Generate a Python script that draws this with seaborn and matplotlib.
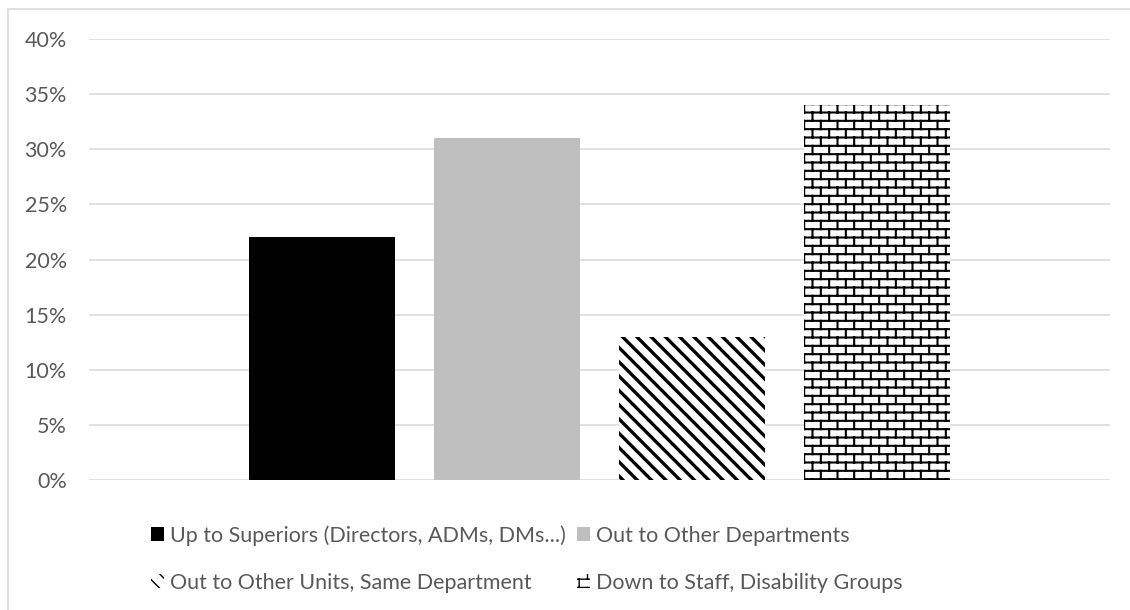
import warnings
import numpy as np
import pandas as pd
import matplotlib
matplotlib.use('Agg')
import matplotlib.pyplot as plt
import matplotlib.hatch as mhatch
from matplotlib.path import Path
from matplotlib.patches import Rectangle
from matplotlib.ticker import PercentFormatter, MultipleLocator
import seaborn as sns

warnings.filterwarnings('ignore')

# datos
categorias = ['Up to Superiors (Directors, ADMs, DMs...)',
              'Out to Other Departments',
              'Out to Other Units, Same Department',
              'Down to Staff, Disability Groups']
valores = [0.22, 0.31, 0.13, 0.34]
colores = ['#000000', '#bfbfbf', '#ffffff', '#ffffff']
tramas = ['', '', 'd', 'b']


def _segmentos(vertices, codes, segs):
    k = 0
    for a, b in segs:
        vertices[k] = a
        vertices[k + 1] = b
        codes[k] = Path.MOVETO
        codes[k + 1] = Path.LINETO
        k += 2


# trama de ladrillos (matplotlib no la trae)
class Ladrillos(mhatch.HatchPatternBase):
    def __init__(self, hatch, density):
        self.filas = 12
        self.cols = 6
        if 'b' in hatch:
            self.num_lines = self.filas + (self.filas + 1) * self.cols
        else:
            self.num_lines = 0
        self.num_vertices = self.num_lines * 2

    def set_vertices_and_codes(self, vertices, codes):
        R, C = self.filas, self.cols
        segs = []
        ys = (np.arange(R) + 0.5) / R
        for y in ys:
            segs.append(((0.0, y), (1.0, y)))
        for i in range(R):
            y0 = ys[i]
            off = 0.25 if i % 2 == 0 else 0.75
            for j in range(C):
                x = (j + off) / C
                if i < R - 1:
                    segs.append(((x, y0), (x, ys[i + 1])))
                else:
                    # la fila de arriba da la vuelta al borde del cuadro
                    segs.append(((x, y0), (x, 1.0)))
                    segs.append(((x, 0.0), (x, ys[0])))
        _segmentos(vertices, codes, segs)


# rayas diagonales, separacion parecida a la de Excel
class Diagonales(mhatch.HatchPatternBase):
    def __init__(self, hatch, density):
        self.n = 7
        self.num_lines = 2 * self.n + 1 if 'd' in hatch else 0
        self.num_vertices = self.num_lines * 2

    def set_vertices_and_codes(self, vertices, codes):
        segs = []
        for k in range(2 * self.n + 1):
            o = -1 + k / self.n
            segs.append(((o, 1.0), (o + 1.0, 0.0)))
        _segmentos(vertices, codes, segs)


mhatch._hatch_types.append(Ladrillos)
mhatch._hatch_types.append(Diagonales)

sns.set_style('white')
plt.rcParams['font.family'] = ['Lato', 'DejaVu Sans']
gris_texto = '#595959'

df = pd.DataFrame({'categoria': categorias, 'valor': valores})

fig = plt.figure(figsize=(11.3, 6.1), dpi=100)
ax = fig.add_axes([89 / 1130, 1 - 480 / 610, (1110 - 89) / 1130, (480 - 39) / 610])

sns.barplot(data=df, x='categoria', y='valor', hue='categoria',
            palette=colores, width=0.79, dodge=False, legend=False,
            edgecolor='black', linewidth=0, saturation=1, ax=ax)

for barra, trama, grosor in zip(ax.patches, tramas, [1, 1, 2.4, 1.5]):
    if trama:
        barra.set_hatch(trama)
        if hasattr(barra, 'set_hatch_linewidth'):
            barra.set_hatch_linewidth(grosor)
        else:
            plt.rcParams['hatch.linewidth'] = grosor

ax.set_xlim(-1.26, 4.26)
ax.set_ylim(0, 0.4)
ax.yaxis.set_major_locator(MultipleLocator(0.05))
ax.yaxis.set_major_formatter(PercentFormatter(1.0, decimals=0))
ax.grid(axis='y', color='#d9d9d9', linewidth=1.1)
ax.set_axisbelow(True)
for s in ax.spines.values():
    s.set_visible(False)
ax.set_xticks([])
ax.set_xlabel('')
ax.set_ylabel('')
ax.tick_params(axis='y', length=0, pad=16, labelsize=15.5, labelcolor=gris_texto)

# leyenda por filas: matplotlib llena por columnas
orden = [0, 2, 1, 3]
fig.legend(handles=[ax.patches[i] for i in orden],
           labels=[categorias[i] for i in orden], ncol=2,
           loc='center left', bbox_to_anchor=(151 / 1130, 1 - 559 / 610),
           frameon=False, fontsize=15.5, labelcolor=gris_texto,
           handlelength=0.6, handleheight=0.65, handletextpad=0.3,
           columnspacing=0.5, labelspacing=1.25, borderpad=0, borderaxespad=0)

# marco del grafico
fig.patches.append(Rectangle((8 / 1130, -0.02), 1.05, 1 - 9 / 610 + 0.02,
                             transform=fig.transFigure, fill=False,
                             edgecolor='#d9d9d9', linewidth=1.2, zorder=-1))

fig.savefig('out.png', dpi=100)
